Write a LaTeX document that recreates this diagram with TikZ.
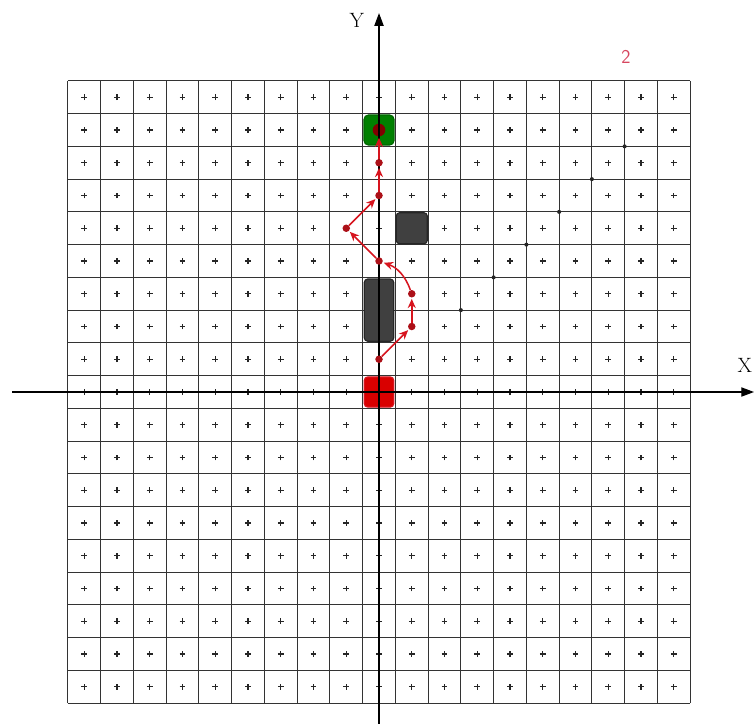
\documentclass[tikz,border=0pt]{standalone}
\usetikzlibrary{arrows.meta}
\definecolor{pinkred}{RGB}{215,70,95}
\definecolor{penred}{RGB}{215,20,30}
\begin{document}
\begin{tikzpicture}[x=1cm,y=1cm,
  gridline/.style={draw=black!80, line width=1pt},
  pluscross/.style={draw=black!85, line width=0.9pt},
  axisline/.style={draw=black, line width=1pt, -{Triangle[length=11pt,width=8pt]}},
  pathseg/.style={draw=penred, line width=1.3pt, -{Stealth[length=8pt,width=7pt]}, shorten >=1pt},
  waypoint/.style={circle, fill=penred!80!black, inner sep=0pt, minimum size=6.5pt},
  startcell/.style={draw=penred, fill=red!85!black, line width=1pt, rounded corners=3pt, minimum width=0.9cm, minimum height=0.92cm, inner sep=0pt},
  obstacle/.style={draw=black!85, fill=black!75, line width=1pt, rounded corners=3pt, inner sep=0pt},
  goalcell/.style={draw=green!40!black, fill=green!50!black, line width=1pt, rounded corners=4pt, minimum size=0.92cm, inner sep=0pt},
  pencil/.style={circle, fill=black!85, inner sep=0pt, minimum size=3.5pt}
]
\useasboundingbox (-11.573,-10.137) rectangle (11.45,11.97);
\fill[white] (-11.573,-10.137) rectangle (11.45,11.97);

% grid 19 x 19
\foreach \i in {0,...,19} {
  \draw[gridline] (\i-9.5,-9.5) -- (\i-9.5,9.5);
  \draw[gridline] (-9.5,\i-9.5) -- (9.5,\i-9.5);
}
% plus marks
\foreach \i in {-9,...,9} {
  \foreach \j in {-9,...,9} {
    \draw[pluscross] (\i-0.085,\j) -- (\i+0.085,\j) (\i,\j-0.085) -- (\i,\j+0.085);
  }
}

% faint pencil marks along a diagonal
\foreach \k in {2,...,7} {
  \node[pencil] (m\k) at (\k+0.5,\k+0.5) {};
}

% cells
\node[startcell] (start) at (0,0) {};
\node[obstacle, minimum width=0.95cm, minimum height=0.95cm] (ob1) at (1,5) {};
\node[obstacle, minimum width=0.9cm, minimum height=1.9cm] (ob2) at (0,2.5) {};
\node[goalcell] (goal) at (0,8) {};
\node[circle, fill=red!50!black, inner sep=0pt, minimum size=11pt] (goaldot) at (0,8) {};

% axes
\coordinate (ybot) at (0,-10.25);
\coordinate (ytop) at (0,11.57);
\coordinate (xleft) at (-11.2,0);
\coordinate (xright) at (11.45,0);
\draw[axisline] (ybot) -- (ytop);
\draw[axisline] (xleft) -- (xright);
\node (ylab) at (-0.68,11.36) {\fontsize{18}{20}\selectfont Y};
\node[inner sep=0pt] (xlab) at (11.17,0.8) {\fontsize{18}{20}\selectfont X};
\node[text=pinkred] (num) at (7.54,10.23) {\sffamily\fontsize{17}{19}\selectfont 2};

% red route
\node[waypoint] (p1) at (0,1) {};
\node[waypoint] (p2) at (1,2) {};
\node[waypoint] (p3) at (1,3) {};
\node[waypoint] (p4) at (0,4) {};
\node[waypoint] (p5) at (-1,5) {};
\node[waypoint] (p6) at (0,6) {};
\node[waypoint] (p7) at (0,7) {};
\draw[pathseg] (p1) -- (p2);
\draw[pathseg] (p2) -- (p3);
\draw[pathseg] (p3) to[bend right=25] (p4);
\draw[pathseg] (p4) -- (p5);
\draw[pathseg] (p5) -- (p6);
\draw[pathseg] (p6) -- (p7);
\draw[pathseg] (p7) -- (goaldot);
\end{tikzpicture}
\end{document}
